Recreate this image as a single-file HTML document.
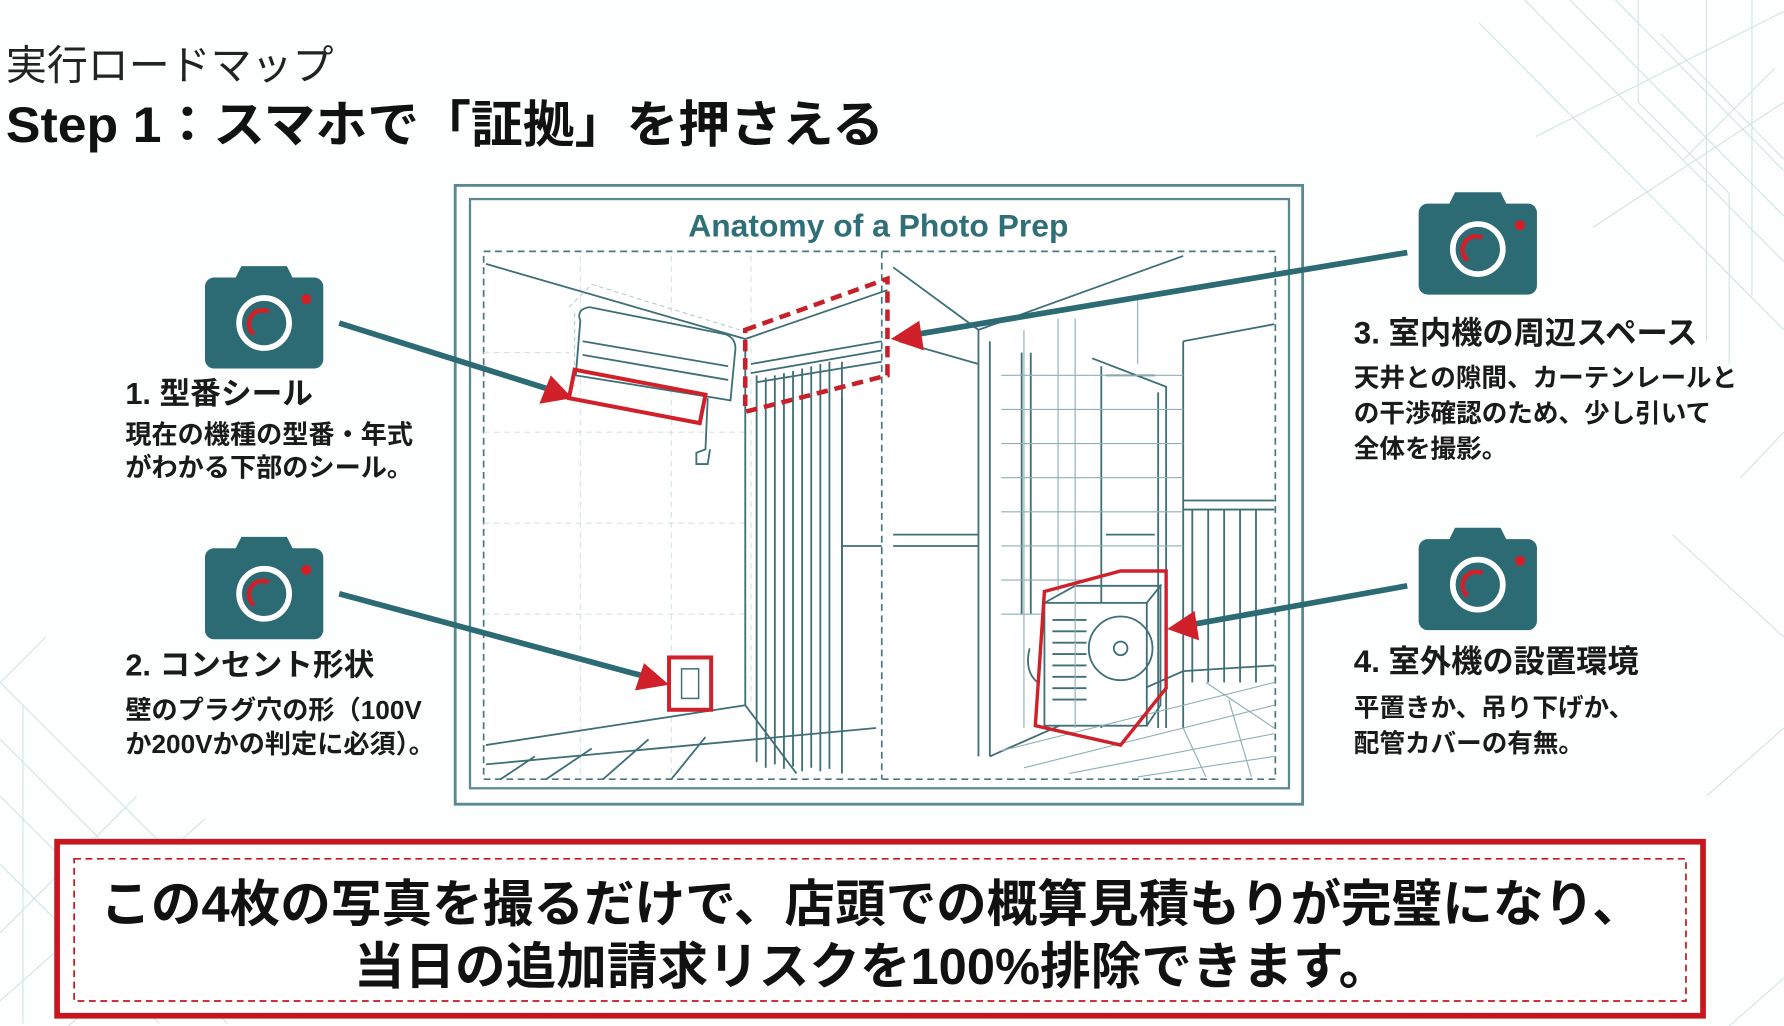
<!DOCTYPE html>
<html><head><meta charset="utf-8"><style>
html,body{margin:0;padding:0;background:#fff;}
svg{display:block;}
text{font-family:"Liberation Sans","Noto Sans CJK JP",sans-serif;}
</style></head><body>
<svg width="1784" height="1026" viewBox="0 0 1568 902" xmlns="http://www.w3.org/2000/svg">
<rect width="1568" height="902" fill="#fdfefe"/>
<g stroke="#c9dcdf" stroke-width="1" fill="none" opacity="0.8">
<path d="M1340 0 L1568 230 M1380 0 L1568 190 M1300 20 L1568 290 M1420 0 L1568 150 M1500 0 V300 M1540 0 V260 M1460 30 L1568 140 M1350 120 L1568 10 M1400 200 L1568 90 M1440 0 L1440 90 L1520 170 L1520 320 M1560 60 L1480 140"/>
<path d="M0 600 L220 820 M0 650 L180 830 M0 700 L200 900 M0 760 L140 900 M40 560 L0 600 M0 820 L120 700 M0 880 L180 720 M60 902 L240 740 M20 620 L20 900"/>
<path d="M1500 700 L1568 640 M1520 902 L1568 860 M1530 420 L1568 380 M1470 470 L1568 560"/>
</g>
<text x="5" y="70" font-size="36" fill="#222">実行ロードマップ</text>
<text x="5" y="125" font-size="44" font-weight="700" fill="#111" textLength="772" lengthAdjust="spacingAndGlyphs">Step 1：スマホで「証拠」を押さえる</text>
<rect x="400" y="163" width="745" height="544" fill="#fff" stroke="#5a8a90" stroke-width="2.5"/>
<rect x="413" y="175" width="720" height="518" fill="none" stroke="#5a8a90" stroke-width="2"/>
<text x="772" y="208" font-size="28" font-weight="700" fill="#2f6f78" text-anchor="middle">Anatomy of a Photo Prep</text>
<rect x="425" y="221" width="696" height="464" fill="none" stroke="#4a7880" stroke-width="1.5" stroke-dasharray="6 4"/>
<line x1="775" y1="221" x2="775" y2="685" stroke="#4a7880" stroke-width="1.5" stroke-dasharray="6 4"/>
<g stroke="#d6e3e5" stroke-width="1" stroke-dasharray="5 4">
<path d="M510 225 V680 M590 225 V680 M660 225 V620 M425 380 H655 M425 460 H655 M425 540 H655 M425 310 H500"/>
</g>
<g stroke="#3f6f77" stroke-width="1.6" fill="none">
<path d="M427 232 L655 298 L655 620"/>
<path d="M427 655 L655 620 M427 672 L770 640"/>
<path d="M440 685 L470 665 M480 685 L520 658 M530 685 L570 650 M590 685 L620 648"/>
<path d="M655 298 L780 255 M655 620 L700 680"/>
<path d="M510 282 Q506 272 518 270 L638 294 Q648 298 646 310 L642 352 L630 350 L506 330 Z" fill="#fff"/>
<path d="M512 300 L640 322 M512 312 L640 334"/>
<path d="M622 350 L620 395 L612 398 L612 408 L622 408 L624 395"/>
<path d="M660 320 L775 300 M660 328 L775 308 M665 336 L775 318"/>
<path d="M665 330 V670 M673 332 V675 M681 330 V672 M689 328 V676 M697 326 V674 M705 324 V678 M713 322 V675 M721 320 V678 M729 318 V676 M740 318 V680"/>
<path d="M740 350 V640 M740 480 H775"/>
</g>
<g stroke="#b8cccf" stroke-width="1" stroke-dasharray="4 3" fill="none"><path d="M500 270 L520 250 L650 290 M505 275 V340"/></g>
<g stroke="#3f6f77" stroke-width="1.6" fill="none">
<path d="M785 235 L860 290 L860 665 M790 300 L860 320 M785 470 H860 M785 480 H860 M870 300 V665 M860 290 L1040 225"/>
<path d="M960 315 L1025 340 L1025 640 M968 322 V640 M1018 345 V640 M972 330 H1015 M972 470 H1015"/>
<path d="M1040 440 H1120 M1040 448 H1120 M1048 448 V600 M1062 448 V600 M1076 448 V600 M1090 448 V600 M1104 448 V600"/>
<path d="M1040 300 L1120 285 M1040 300 V640"/>
<path d="M870 665 L1040 590 L1120 585"/>
<rect x="918" y="530" width="90" height="108" fill="#fff"/>
<path d="M918 530 L945 515 L1020 515 L1008 530 M1008 530 L1020 515 L1020 620 L1008 638"/>
<circle cx="985" cy="570" r="28"/>
<circle cx="985" cy="570" r="6"/>
<path d="M925 545 H955 M925 555 H955 M925 565 H955 M925 575 H955 M925 585 H955 M925 595 H955 M925 605 H955 M925 615 H955"/>
<path d="M905 570 Q900 590 912 600"/>
<path d="M898 310 V540 M906 310 V540"/>
</g>
<g stroke="#8fb0b5" stroke-width="1" fill="none">
<path d="M880 330 H1040 M880 360 H1040 M880 390 H1040 M880 420 H1040 M880 450 H1040 M880 480 H1040 M880 510 H960 M880 540 H918 M900 290 V640 M930 280 V520 M945 280 V640 M1000 260 V320"/>
<path d="M880 660 L1120 600 M900 675 L1120 620 M940 680 L1120 645 M1000 683 L1120 665 M1040 640 L1060 683 M1080 615 L1100 683 M1060 600 L1120 640"/>
</g>
<polygon points="505,325 620,347 615,372 500,350" fill="none" stroke="#d0202a" stroke-width="3.5"/>
<polygon points="655,290 780,245 780,330 655,362" fill="none" stroke="#c8202a" stroke-width="4" stroke-dasharray="10 6"/>
<rect x="588" y="578" width="37" height="46" fill="#fff" stroke="#d0202a" stroke-width="3.5"/>
<rect x="599" y="588" width="15" height="26" fill="none" stroke="#3f6f77" stroke-width="1.3"/>
<polygon points="918,520 985,502 1025,502 1025,605 985,655 910,638" fill="none" stroke="#d0202a" stroke-width="3"/>
<g stroke="#2d6b74" stroke-width="5" fill="none">
<line x1="298" y1="284" x2="485" y2="343"/>
<line x1="298" y1="522" x2="568" y2="595"/>
<line x1="1237" y1="222" x2="805" y2="294"/>
<line x1="1237" y1="515" x2="1048" y2="549"/>
</g>
<g fill="#d0202a">
<polygon points="503,350 474,355 484,330"/>
<polygon points="588,602 558,607 566,583"/>
<polygon points="783,298 808,282 812,308"/>
<polygon points="1026,553 1050,537 1054,563"/>
</g>
<defs>
<g id="cam">
<path d="M-26 -44 L-20 -56 L20 -56 L26 -44 Z" fill="#2d6b74"/>
<rect x="-52" y="-46" width="104" height="80" rx="8" fill="#2d6b74"/>
<circle cx="0" cy="-6" r="22" fill="none" stroke="#fff" stroke-width="5"/>
<path d="M-9 4 A 12 12 0 0 1 4 -16" fill="none" stroke="#d0202a" stroke-width="4"/>
<circle cx="37" cy="-27" r="4.5" fill="#d0202a"/>
</g>
</defs>
<use href="#cam" x="232" y="290"/>
<use href="#cam" x="232" y="528"/>
<use href="#cam" x="1299" y="225"/>
<use href="#cam" x="1299" y="520"/>
<g fill="#1a1a1a" font-weight="700">
<text x="110" y="355" font-size="27">1. 型番シール</text>
<text x="110" y="390" font-size="23">現在の機種の型番・年式</text>
<text x="110" y="419" font-size="23">がわかる下部のシール。</text>
<text x="110" y="594" font-size="27">2. コンセント形状</text>
<text x="110" y="632" font-size="23">壁のプラグ穴の形（100V</text>
<text x="110" y="662" font-size="23">か200Vかの判定に必須）。</text>
<text x="1190" y="302" font-size="27.5">3. 室内機の周辺スペース</text>
<text x="1190" y="340" font-size="22.5">天井との隙間、カーテンレールと</text>
<text x="1190" y="371" font-size="22.5">の干渉確認のため、少し引いて</text>
<text x="1190" y="402" font-size="22.5">全体を撮影。</text>
<text x="1190" y="591" font-size="27.5">4. 室外機の設置環境</text>
<text x="1190" y="630" font-size="22.5">平置きか、吊り下げか、</text>
<text x="1190" y="661" font-size="22.5">配管カバーの有無。</text>
</g>
<rect x="50" y="740" width="1447" height="153" fill="#fff" stroke="#c8161e" stroke-width="5"/>
<rect x="65" y="755" width="1417" height="125" fill="none" stroke="#c8161e" stroke-width="1.5" stroke-dasharray="6 4"/>
<text x="766" y="810" font-size="44.5" font-weight="700" fill="#111" text-anchor="middle">この4枚の写真を撮るだけで、店頭での概算見積もりが完璧になり、</text>
<text x="766" y="865" font-size="44.5" font-weight="700" fill="#111" text-anchor="middle">当日の追加請求リスクを100%排除できます。</text>
</svg>
</body></html>
